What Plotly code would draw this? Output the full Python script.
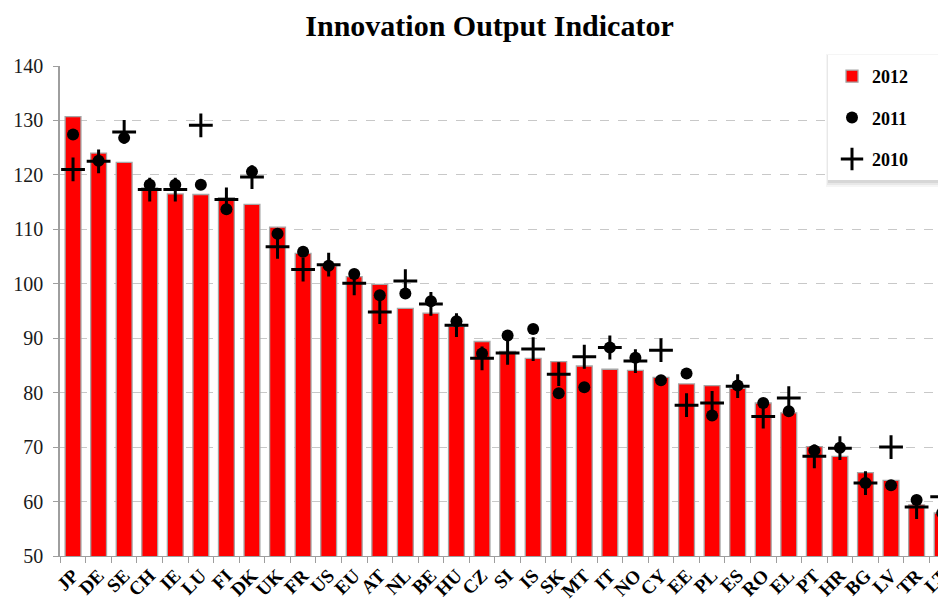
import plotly.graph_objects as go

countries = ["JP", "DE", "SE", "CH", "IE", "LU", "FI", "DK", "UK", "FR", "US", "EU",
             "AT", "NL", "BE", "HU", "CZ", "SI", "IS", "SK", "MT", "IT", "NO", "CY",
             "EE", "PL", "ES", "RO", "EL", "PT", "HR", "BG", "LV", "TR", "LT"]
v2012 = [130.7, 124.0, 122.3, 117.6, 116.5, 116.4, 115.8, 114.6, 110.4, 105.6, 103.3, 101.3,
         99.9, 95.5, 94.6, 92.2, 89.4, 87.6, 86.3, 85.7, 84.9, 84.3, 84.1, 82.8,
         81.6, 81.3, 80.8, 78.1, 76.3, 70.1, 68.3, 65.3, 63.9, 59.4, 57.9]
v2011 = [127.4, 122.6, 126.8, 118.2, 118.2, 118.2, 113.7, 120.6, 109.2, 105.9, 103.3, 101.8,
         97.9, 98.2, 96.8, 93.1, 87.2, 90.5, 91.7, 79.9, 81.0, 88.3, 86.4, 82.3,
         83.5, 75.8, 81.3, 78.1, 76.6, 69.4, 69.9, 63.4, 63.0, 60.3, 57.9]
v2010 = [121.0, 122.5, 127.9, 117.3, 117.3, 129.1, 115.5, 119.6, 106.8, 102.6, 103.5, 100.1,
         94.8, 100.5, 96.3, 92.4, 86.3, 87.3, 88.0, 83.4, 86.6, 88.3, 85.8, 87.8,
         77.7, 78.1, 81.2, 75.6, 79.0, 68.3, 69.8, 63.4, 70.0, 59.0, 60.9]

FONT = "Liberation Serif, Times New Roman, serif"

# page is offset by the browser's 8px body margin; layout coords = page coords - 8
W, H = 938, 595
L, R, T, B = 52, 0, 58, 47
PW, PH = W - L - R, H - T - B


def px(xp):  # page x -> paper fraction
    return (xp - 8 - L) / PW


def py(yp):  # page y -> paper fraction
    return (H - B - (yp - 8)) / PH


fig = go.Figure()
fig.add_trace(go.Bar(
    x=countries, y=v2012, name="<b>2012</b>", width=0.62,
    marker=dict(color="#ff0000", line=dict(color="#a6a6a6", width=1.3)),
    legendgroup="a",
))
fig.add_trace(go.Scatter(
    x=countries, y=v2011, name="<b>2011</b>", mode="markers",
    marker=dict(symbol="circle", size=12, color="black"),
    legendgroup="b",
))
fig.add_trace(go.Scatter(
    x=countries, y=v2010, name="<b>2010</b>", mode="markers",
    marker=dict(symbol="cross-thin", size=17, color="black",
                line=dict(color="black", width=3)),
    legendgroup="c",
))

# legend box with soft shadow
for dx0, dy0, dx1, dy1, a in [(-2, -1, 7, 7, 0.04), (-1, 0, 5, 5, 0.05), (0, 1, 3, 3, 0.07)]:
    fig.add_shape(type="rect", xref="paper", yref="paper",
                  x0=px(828 + dx0), x1=px(940 + dx1), y0=py(180 + dy1), y1=py(55 + dy0),
                  fillcolor="rgba(0,0,0,%s)" % a, line=dict(width=0), layer="above")
fig.add_shape(type="rect", xref="paper", yref="paper",
              x0=px(828), x1=px(940), y0=py(180), y1=py(55),
              fillcolor="white", line=dict(width=0), layer="above")

fig.update_layout(
    width=W, height=H,
    margin=dict(l=L, r=R, t=T, b=B, autoexpand=False),
    paper_bgcolor="white", plot_bgcolor="white",
    font=dict(family=FONT, color="black"),
    title=dict(text="<b>Innovation Output Indicator</b>", x=(489.5 - 8) / W, xanchor="center",
               y=1 - (25 - 8) / H, yanchor="middle", font=dict(family=FONT, size=30, color="black")),
    barmode="overlay",
    showlegend=True,
    legend=dict(x=px(832), y=py(58), xanchor="left", yanchor="top",
                bgcolor="rgba(0,0,0,0)", borderwidth=0, tracegroupgap=15,
                font=dict(family=FONT, size=18, color="black"),
                itemwidth=30, traceorder="grouped"),
)
fig.update_xaxes(
    range=[-0.51, 34.15], showgrid=False, showline=True, linecolor="#9e9e9e", linewidth=1,
    ticks="outside", tickson="boundaries", ticklen=6, tickcolor="#9e9e9e",
    tickangle=-45, tickfont=dict(family=FONT, size=19, color="black"),
    tickprefix="<b>", ticksuffix="</b>", automargin=False,
)
fig.update_yaxes(
    range=[50, 140], dtick=10, showgrid=True, gridcolor="#c8c8c8", griddash="dash",
    gridwidth=1, showline=True, linecolor="#9e9e9e", linewidth=1.5,
    ticks="outside", ticklen=5, tickcolor="#9e9e9e", ticklabelstandoff=6,
    tickfont=dict(family=FONT, size=20, color="#1a1a1a"), zeroline=False, automargin=False,
)

fig.write_html("out.html")
